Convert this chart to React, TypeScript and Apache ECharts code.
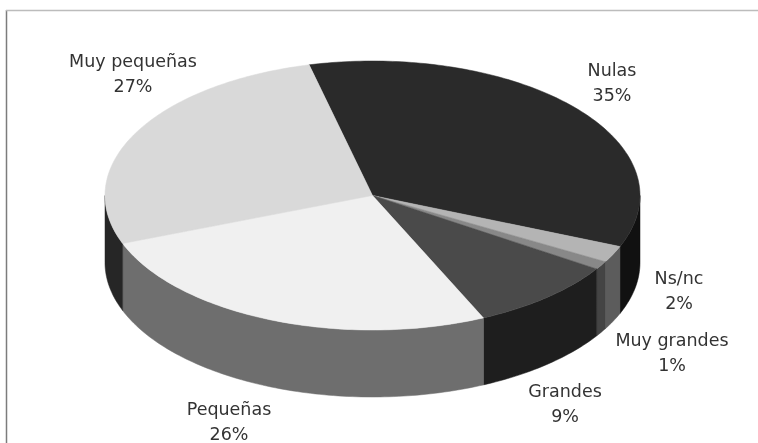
import React, { useEffect, useRef } from "react";
import * as echarts from "echarts";

const categories = ["Nulas", "Ns/nc", "Muy grandes", "Grandes", "Pequeñas", "Muy pequeñas"];
const shares = [35, 2, 1, 9, 26, 27];

const topColors = ["#2a2a2a", "#b4b4b4", "#888888", "#4a4a4a", "#f0f0f0", "#d9d9d9"];
const sideColors = ["#111111", "#5c5c5c", "#444444", "#1e1e1e", "#6e6e6e", "#262626"];
const labelPositions = [
  [612, 82],
  [679, 290],
  [672, 352],
  [565, 403],
  [229, 421],
  [133, 73],
];

const CX = 372.5;
const CY = 195.5;
const RX = 267.5;
const RY = 134.5;
const DEPTH = 67;
const START_DEG = -103.7;
const TOTAL = shares.reduce((a, b) => a + b, 0);

const rad = (d: number) => (d * Math.PI) / 180;
const pt = (deg: number, dy = 0): number[] => [
  CX + RX * Math.cos(rad(deg)),
  CY + RY * Math.sin(rad(deg)) + dy,
];
const arc = (a: number, b: number, dy = 0) => {
  const n = Math.max(2, Math.ceil(Math.abs(b - a)));
  const out: number[][] = [];
  for (let i = 0; i <= n; i++) out.push(pt(a + ((b - a) * i) / n, dy));
  return out;
};

function renderSlice(params: any, api: any) {
  const i = params.dataIndex;
  const value = api.value(0);
  const before = shares.slice(0, i).reduce((a, b) => a + b, 0);
  const a = START_DEG + (before / TOTAL) * 360;
  const b = a + (value / TOTAL) * 360;
  const children: any[] = [];

  // Visible part of the wall: the front half of the ellipse, 0..180 degrees
  const wallSpans: number[][] = [];
  for (const shift of [0, 360, -360]) {
    const s = Math.max(a, shift);
    const e = Math.min(b, 180 + shift);
    if (e > s) wallSpans.push([s, e]);
  }
  for (const [s, e] of wallSpans) {
    const points = [...arc(s, e), ...arc(e, s, DEPTH)];
    children.push({
      type: "polygon",
      shape: { points },
      style: { fill: sideColors[i], stroke: sideColors[i], lineWidth: 0.5 },
    });
  }
  children.push({
    type: "polygon",
    shape: { points: [[CX, CY], ...arc(a, b)] },
    style: { fill: topColors[i], stroke: topColors[i], lineWidth: 0.5 },
  });
  const [lx, ly] = labelPositions[i];
  children.push({
    type: "text",
    x: lx,
    y: ly,
    style: {
      text: `${categories[i]}\n${value}%`,
      fill: "#333333",
      font: '17.5px "DejaVu Sans"',
      lineHeight: 25,
      align: "center",
      verticalAlign: "middle",
    },
  });
  return { type: "group", children };
}

export default function App() {
  const ref = useRef<HTMLDivElement>(null);
  useEffect(() => {
    document.body.style.margin = "0";
    document.body.style.background = "#ffffff";
    const chart = echarts.init(ref.current!, undefined, { renderer: "svg" });
    chart.setOption({
      animation: false,
      backgroundColor: "#ffffff",
      graphic: [
        { type: "line", shape: { x1: 6.5, y1: 10, x2: 6.5, y2: 443 }, style: { stroke: "#7c7c7c", lineWidth: 1.5 } },
        { type: "line", shape: { x1: 6, y1: 10.5, x2: 758, y2: 10.5 }, style: { stroke: "#bcbcbc", lineWidth: 1.5 } },
      ],
      series: [
        {
          type: "custom",
          coordinateSystem: "none",
          renderItem: renderSlice,
          data: shares.map((v, i) => ({ name: categories[i], value: [v] })),
          encode: { value: 0 },
        },
      ],
    });
    return () => chart.dispose();
  }, []);
  return (
    <div
      ref={ref}
      style={{ position: "absolute", left: 0, top: 0, width: 758, height: 443, filter: "blur(0.7px)" }}
    />
  );
}
